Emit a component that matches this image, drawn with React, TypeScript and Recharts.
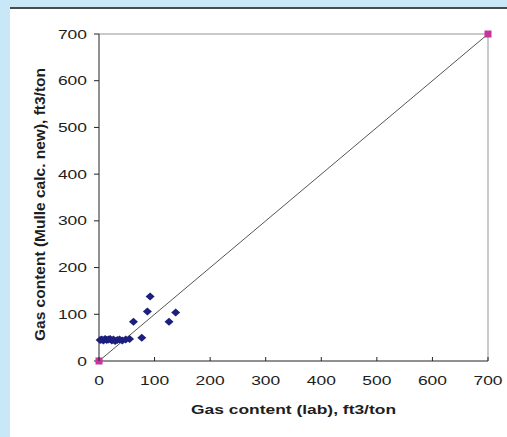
import React from 'react';
import { ScatterChart, Scatter, XAxis, YAxis, ReferenceLine } from 'recharts';

// lab gas content vs. calculated gas content, ft3/ton
const labValues = [2, 5, 8, 11, 14, 17, 20, 23, 26, 29, 33, 37, 42, 48, 55, 62, 77, 87, 92, 126, 138];
const calcValues = [45, 46, 44, 47, 45, 46, 47, 44, 46, 43, 45, 46, 44, 46, 47, 84, 50, 106, 138, 84, 104];

// 1:1 reference line end points
const lineX = [0, 700];
const lineY = [0, 700];

const axisTicks = [0, 100, 200, 300, 400, 500, 600, 700];

const samples = labValues.map((x, i) => ({ x, y: calcValues[i] }));
const diagonal = lineX.map((x, i) => ({ x, y: lineY[i] }));

const FONT = 'Liberation Sans, Arial, sans-serif';
const TEXT = '#1e1e1e';
const STRETCH = 1.34; // the source text is drawn wide

const Diamond = (props: any) => {
  const { cx, cy } = props;
  return (
    <polygon
      points={`${cx},${cy - 4} ${cx + 4.5},${cy} ${cx},${cy + 4} ${cx - 4.5},${cy}`}
      fill="#1c1f7e"
    />
  );
};

const Square = (props: any) => {
  const { cx, cy } = props;
  return <rect x={cx - 3.5} y={cy - 3.5} width={7} height={7} fill="#c8339c" />;
};

const WideText = ({ x, y, anchor, size, bold, children }: any) => (
  <text
    transform={`translate(${x} ${y}) scale(${STRETCH} 1)`}
    textAnchor={anchor}
    fontSize={size}
    fontWeight={bold ? 'bold' : 'normal'}
    fontFamily={FONT}
    fill={TEXT}
  >
    {children}
  </text>
);

const XTick = (props: any) => {
  const { x, y, payload } = props;
  return (
    <g>
      <line x1={x} y1={y} x2={x} y2={y - 4} stroke="#222" />
      <WideText x={x} y={y + 24} anchor="middle" size={13}>
        {payload.value}
      </WideText>
    </g>
  );
};

const YTick = (props: any) => {
  const { x, y, payload } = props;
  return (
    <WideText x={x} y={y + 4.5} anchor="end" size={13}>
      {payload.value}
    </WideText>
  );
};

export default function App() {
  return (
    <div style={{ position: 'fixed', left: 0, top: 0, width: 507, height: 437, background: '#c8e8f7' }}>
      <div
        style={{
          position: 'absolute',
          left: 10,
          top: 7,
          width: 497,
          height: 430,
          background: '#fff',
          borderTop: '2px solid #4a4a4a',
          boxSizing: 'border-box',
        }}
      >
        <ScatterChart width={497} height={428} margin={{ top: 25, right: 19, bottom: 21, left: 29 }}>
          <XAxis
            type="number"
            dataKey="x"
            domain={[0, 700]}
            ticks={axisTicks}
            tickSize={0}
            tickMargin={0}
            tick={<XTick />}
            height={55}
            stroke="#222"
            label={{
              content: (p: any) => (
                <WideText
                  x={p.viewBox.x + p.viewBox.width / 2}
                  y={p.viewBox.y + 53}
                  anchor="middle"
                  size={13}
                  bold
                >
                  Gas content (lab), ft3/ton
                </WideText>
              ),
            }}
          />
          <YAxis
            type="number"
            dataKey="y"
            domain={[0, 700]}
            ticks={axisTicks}
            tickSize={5}
            tickMargin={7}
            width={60}
            stroke="#222"
            tick={<YTick />}
            label={{
              content: (p: any) => {
                const cx = 29;
                const cy = p.viewBox.y + p.viewBox.height / 2 + 7;
                return (
                  <text
                    x={cx}
                    y={cy}
                    transform={`rotate(-90 ${cx} ${cy})`}
                    textAnchor="middle"
                    dominantBaseline="central"
                    fontSize={15.5}
                    fontWeight="bold"
                    fontFamily={FONT}
                    fill={TEXT}
                  >
                    Gas content (Mulle calc. new), ft3/ton
                  </text>
                );
              },
            }}
          />
          <ReferenceLine y={700} stroke="#b8b8b8" strokeWidth={1.5} />
          <ReferenceLine x={700} stroke="#b8b8b8" strokeWidth={1.5} />
          <Scatter
            data={diagonal}
            line={{ stroke: '#555', strokeWidth: 1 }}
            shape={<Square />}
            isAnimationActive={false}
          />
          <Scatter data={samples} shape={<Diamond />} isAnimationActive={false} />
        </ScatterChart>
      </div>
    </div>
  );
}
